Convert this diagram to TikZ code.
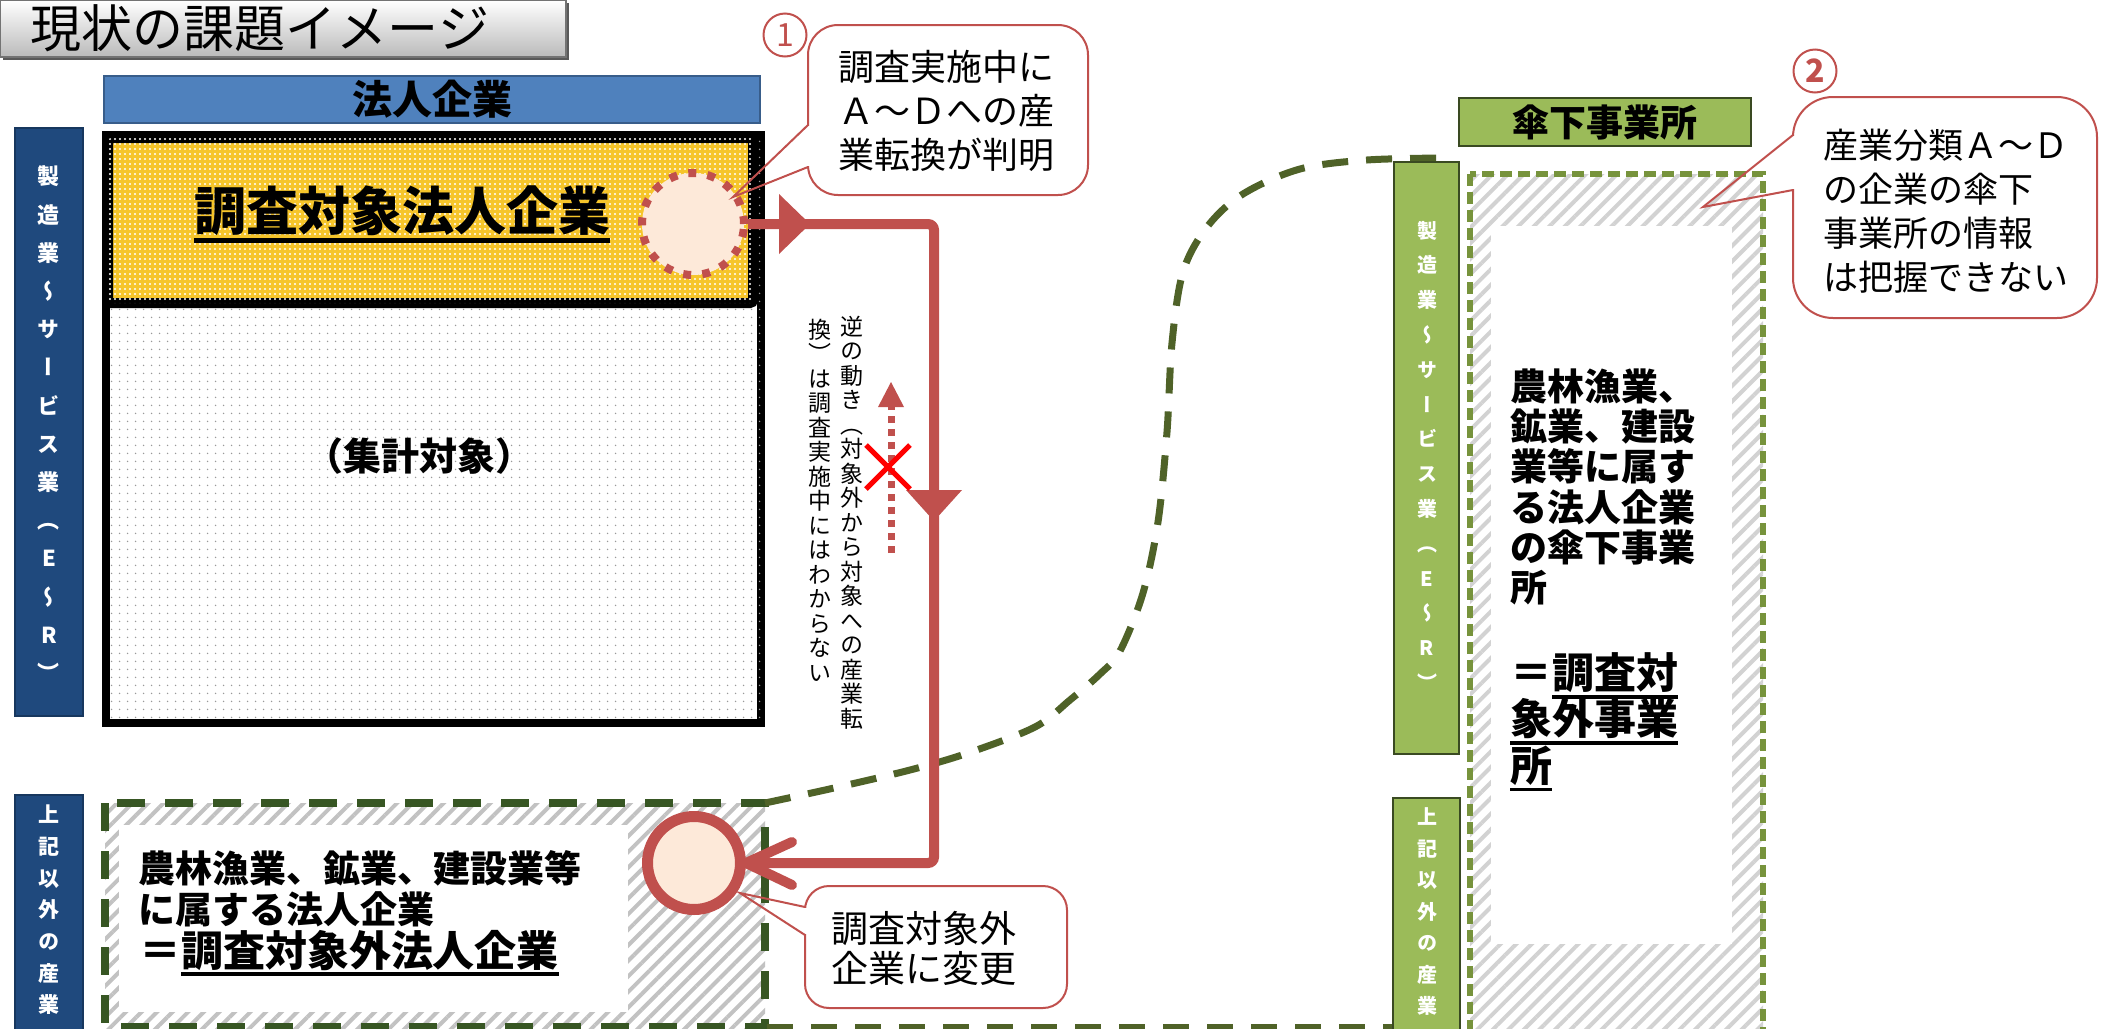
\documentclass[tikz,border=0pt]{standalone}
\usepackage{fontspec}
\setmainfont{Noto Sans CJK JP}
\newfontfamily\jpv{Noto Sans CJK JP}[RawFeature=+vert]
\usepackage{graphicx}
\usetikzlibrary{patterns.meta,calc}

\definecolor{cRed}{HTML}{C0504D}
\definecolor{cPeach}{HTML}{FDE9D9}
\definecolor{cBlue}{HTML}{4F81BD}
\definecolor{cBlueDk}{HTML}{385D8A}
\definecolor{cNavy}{HTML}{1F497D}
\definecolor{cNavyDk}{HTML}{17375E}
\definecolor{cGreen}{HTML}{9BBB59}
\definecolor{cGreenDk}{HTML}{3A4A22}
\definecolor{cDkGreen}{HTML}{375623}
\definecolor{cOlive}{HTML}{4F6228}
\definecolor{cLtGreen}{HTML}{77933C}
\definecolor{hatchL}{HTML}{C2C2C2}
\definecolor{hatchR}{HTML}{D2D2D2}
\definecolor{cYellow}{HTML}{F6C52A}

\newcommand\fs[2]{\fontsize{#1}{#2}\selectfont}
\newsavebox\ulbox
\newcommand\ul[1]{\sbox\ulbox{#1}\leavevmode\rlap{\rule[-0.24em]{\wd\ulbox}{0.09em}}\usebox\ulbox}

\makeatletter
\def\vt@end{\vt@end@}
\def\vt@loop#1{%
  \ifx\vt@end#1\else
    \hbox to\vt@w{\hss#1\hss}%
    \expandafter\vt@loop
  \fi}
\newcommand\vtext[3]{%
  \vbox{\jpv\baselineskip=#1\relax\lineskiplimit=-\maxdimen\lineskip=0pt
    \def\vt@w{#2}\vt@loop#3\vt@end}}
\makeatother

\begin{document}
\begin{tikzpicture}[x=0.5pt,y=-0.5pt,
  lbl/.style={inner sep=0pt, outer sep=0pt},
  bar/.style={inner sep=0pt, line width=0.6pt},
  callbox/.style={draw=cRed, fill=white, line width=1pt},
  tailline/.style={draw=cRed, line width=1pt},
  redline/.style={draw=cRed, line width=5pt},
  hatchL/.style={pattern={Lines[angle=45,distance=5.5pt,line width=2pt]}, pattern color=hatchL},
  hatchR/.style={pattern={Lines[angle=45,distance=5.5pt,line width=2pt]}, pattern color=hatchR},
  greenlink/.style={draw=cOlive, line width=3.5pt, dash pattern=on 13pt off 9pt}
]
\useasboundingbox (0,0) rectangle (2101,1029);

% ---------- title ----------
\fill[black!65] (3,3) rectangle (569,60);
\shadedraw[top color=white, bottom color=black!27, draw=black!55, line width=0.6pt] (0,0) rectangle (566,57);
\node[lbl, anchor=west, font=\fs{25.5pt}{25.5pt}] (title) at (31,28) {現状の課題イメージ};

% ---------- left header + bars ----------
\node[bar, draw=cBlueDk, fill=cBlue, minimum width=328pt, minimum height=23.5pt,
      font=\bfseries\fs{20pt}{20pt}] (hdrL) at (432,99.5) {法人企業};

\node[bar, draw=cNavyDk, fill=cNavy, minimum width=34pt, minimum height=294pt] (barL1) at (49,422) {};
\node[lbl, anchor=north, text=white, font=\bfseries\fs{11pt}{11pt}] (barL1t) at (49,166)
  {\vtext{19.1pt}{14pt}{製造業～サービス業（E～R）}};

% ---------- big black box ----------
\path[draw=black, line width=4pt, fill=white,
      postaction={pattern={Dots[distance=4pt,radius=0.45pt]}, pattern color=black!40}]
      (106,135) rectangle (761,723);
\path[draw=black, line width=5pt, rounded corners=1.5pt, fill=cYellow,
      postaction={pattern={Dots[distance=2.5pt,radius=0.55pt]}, pattern color=white}]
      (108,138) rectangle (753,303);
\node[lbl, font=\bfseries\fs{26pt}{26pt}] (tgtTxt) at (402,214) {\ul{調査対象法人企業}};
\node[lbl, font=\bfseries\fs{19pt}{19pt}] (sumTxt) at (419,456) {（集計対象）};

% dashed circle
\node[circle, draw=cRed, fill=cPeach, line width=4pt, dash pattern=on 4pt off 5.6pt,
      minimum size=51pt, inner sep=0pt] (tgtA) at (693,224) {};

% ---------- lower-left box ----------
\path[hatchL] (105,803) rectangle (765,1045);
\fill[white] (119,825) rectangle (628,1012);
\draw[cDkGreen, line width=4pt, dash pattern=on 14pt off 10pt] (105,803) rectangle (765,1027);
\node[lbl, anchor=west, align=left, font=\bfseries\fs{18.5pt}{20.5pt}] (llTxt1) at (138,889)
  {農林漁業、鉱業、建設業等\\に属する法人企業};
\node[lbl, anchor=west, font=\bfseries\fs{21pt}{21pt}] (llTxt2) at (139,953) {＝\ul{調査対象外法人企業}};

\node[bar, draw=cNavyDk, fill=cNavy, minimum width=34pt, minimum height=125pt] (barL2) at (49,920) {};
\node[lbl, anchor=north, text=white, font=\bfseries\fs{10.5pt}{10.5pt}] (barL2t) at (49,805)
  {\vtext{15.85pt}{14pt}{上記以外の産業}};

% ---------- right box ----------
\path[hatchR] (1470,174) rectangle (1763,1045);
\fill[white] (1491,226) rectangle (1732,944);
\draw[cLtGreen, line width=3pt, dash pattern=on 6pt off 3pt] (1470,174) rectangle (1763,1045);
\node[lbl, anchor=west, align=left, font=\bfseries\fs{18.5pt}{20.1pt}] (rTxt1) at (1510,487)
  {農林漁業、\\鉱業、建設\\業等に属す\\る法人企業\\の傘下事業\\所};
\node[lbl, anchor=west, align=left, font=\bfseries\fs{21pt}{23.2pt}] (rTxt2) at (1510,722)
  {＝\ul{調査対}\\\ul{象外事業}\\\ul{所}};

% ---------- green link (curve + bottom) ----------
\draw[greenlink] plot[smooth, tension=0.55] coordinates {(765,803) (834,788) (910,770) (968,753) (1035,727)
  (1070,700) (1100,674) (1120,651) (1143,593) (1158,522) (1167,432) (1172,343) (1183,272)
  (1207,227) (1243,194) (1300,169) (1367,160) (1445,158)};
\draw[greenlink] (767,1027) -- (1395,1027);

% ---------- right bars + header ----------
\node[bar, draw=cGreenDk, fill=cGreen, minimum width=32.5pt, minimum height=296pt] (barR1) at (1426.5,458) {};
\node[lbl, anchor=north, text=white, font=\bfseries\fs{10pt}{10pt}] (barR1t) at (1427,221)
  {\vtext{17.4pt}{13pt}{製造業～サービス業（E～R）}};
\node[bar, draw=cGreenDk, fill=cGreen, minimum width=33.5pt, minimum height=123.5pt] (barR2) at (1426.5,921.5) {};
\node[lbl, anchor=north, text=white, font=\bfseries\fs{10pt}{10pt}] (barR2t) at (1427,808)
  {\vtext{15.75pt}{13pt}{上記以外の産業}};
\node[bar, draw=cGreenDk, fill=cGreen, minimum width=146pt, minimum height=24pt,
      font=\bfseries\fs{18.5pt}{18.5pt}] (hdrR) at (1605,122) {傘下事業所};

% ---------- red flow ----------
\node[circle, draw=cRed, fill=cPeach, line width=5.5pt, minimum size=46.5pt, inner sep=0pt] (tgtB) at (694,863) {};
\coordinate (bend1) at (934,224);
\coordinate (bend2) at (934,863);
\draw[redline, rounded corners=3pt] (tgtA.east) -- (bend1) -- (bend2) -- (tgtB.east);
\draw[redline, line cap=round, line join=round] ($(tgtB.east)+(46,-21)$) -- (tgtB.east) -- ($(tgtB.east)+(46,22)$);
\fill[cRed] (779,194) -- (810,224) -- (779,254) -- cycle;
\fill[cRed] (906,490) -- (934,521) -- (962,490) -- cycle;

% reverse (dotted) arrow + cross
\coordinate (revS) at (891,553);
\coordinate (revE) at (891,407);
\draw[cRed, line width=3.5pt, dash pattern=on 3.5pt off 3pt] (revS) -- (revE);
\fill[cRed] (878,407) -- (891,382) -- (904,407) -- cycle;
\draw[red, line width=2.5pt] (866,445) -- (910,489) (866,489) -- (910,445);

% vertical note
\node[lbl, anchor=north, font=\fs{11.5pt}{11.5pt}] (noteR) at (852,316)
  {\vtext{12.25pt}{12pt}{逆の動き（対象外から対象への産業転}};
\node[lbl, anchor=north, font=\fs{11.5pt}{11.5pt}] (noteL) at (820,319)
  {\vtext{12.25pt}{12pt}{換）は調査実施中にはわからない}};

% ---------- callout 1 ----------
\draw[callbox, rounded corners=15pt] (808,25) rectangle (1088,195);
\fill[white] (806,126) rectangle (810,166);
\draw[tailline] (808,125) -- (733,197) -- (808,167);
\node[lbl, anchor=west, align=left, font=\fs{18pt}{22pt}] (co1) at (838,111)
  {調査実施中に\\Ａ～Ｄへの産\\業転換が判明};
\node[circle, draw=cRed, line width=1pt, minimum size=21.5pt, inner sep=0pt,
      text=cRed, font=\fs{16pt}{16pt}] (num1) at (785,35) {1};

% ---------- callout 2 ----------
\draw[callbox, rounded corners=20pt] (1793,97) rectangle (2097,318);
\fill[white] (1791,136) rectangle (1795,189);
\draw[tailline] (1793,135) -- (1703,207) -- (1793,190);
\node[lbl, anchor=west, align=left, font=\fs{17.5pt}{22pt}] (co2) at (1823,211)
  {産業分類Ａ～Ｄ\\の企業の傘下\\事業所の情報\\は把握できない};
\node[circle, draw=cRed, line width=1pt, minimum size=21.5pt, inner sep=0pt,
      text=cRed, font=\bfseries\fs{16pt}{16pt}] (num2) at (1815,71) {2};

% ---------- callout 3 ----------
\draw[callbox, rounded corners=12pt] (805,886) rectangle (1067,1008);
\fill[white] (803,908) rectangle (807,934);
\draw[tailline] (805,907) -- (740,893) -- (805,935);
\node[lbl, anchor=west, align=left, font=\fs{18.5pt}{20pt}] (co3) at (831,948)
  {調査対象外\\企業に変更};
\end{tikzpicture}
\end{document}
